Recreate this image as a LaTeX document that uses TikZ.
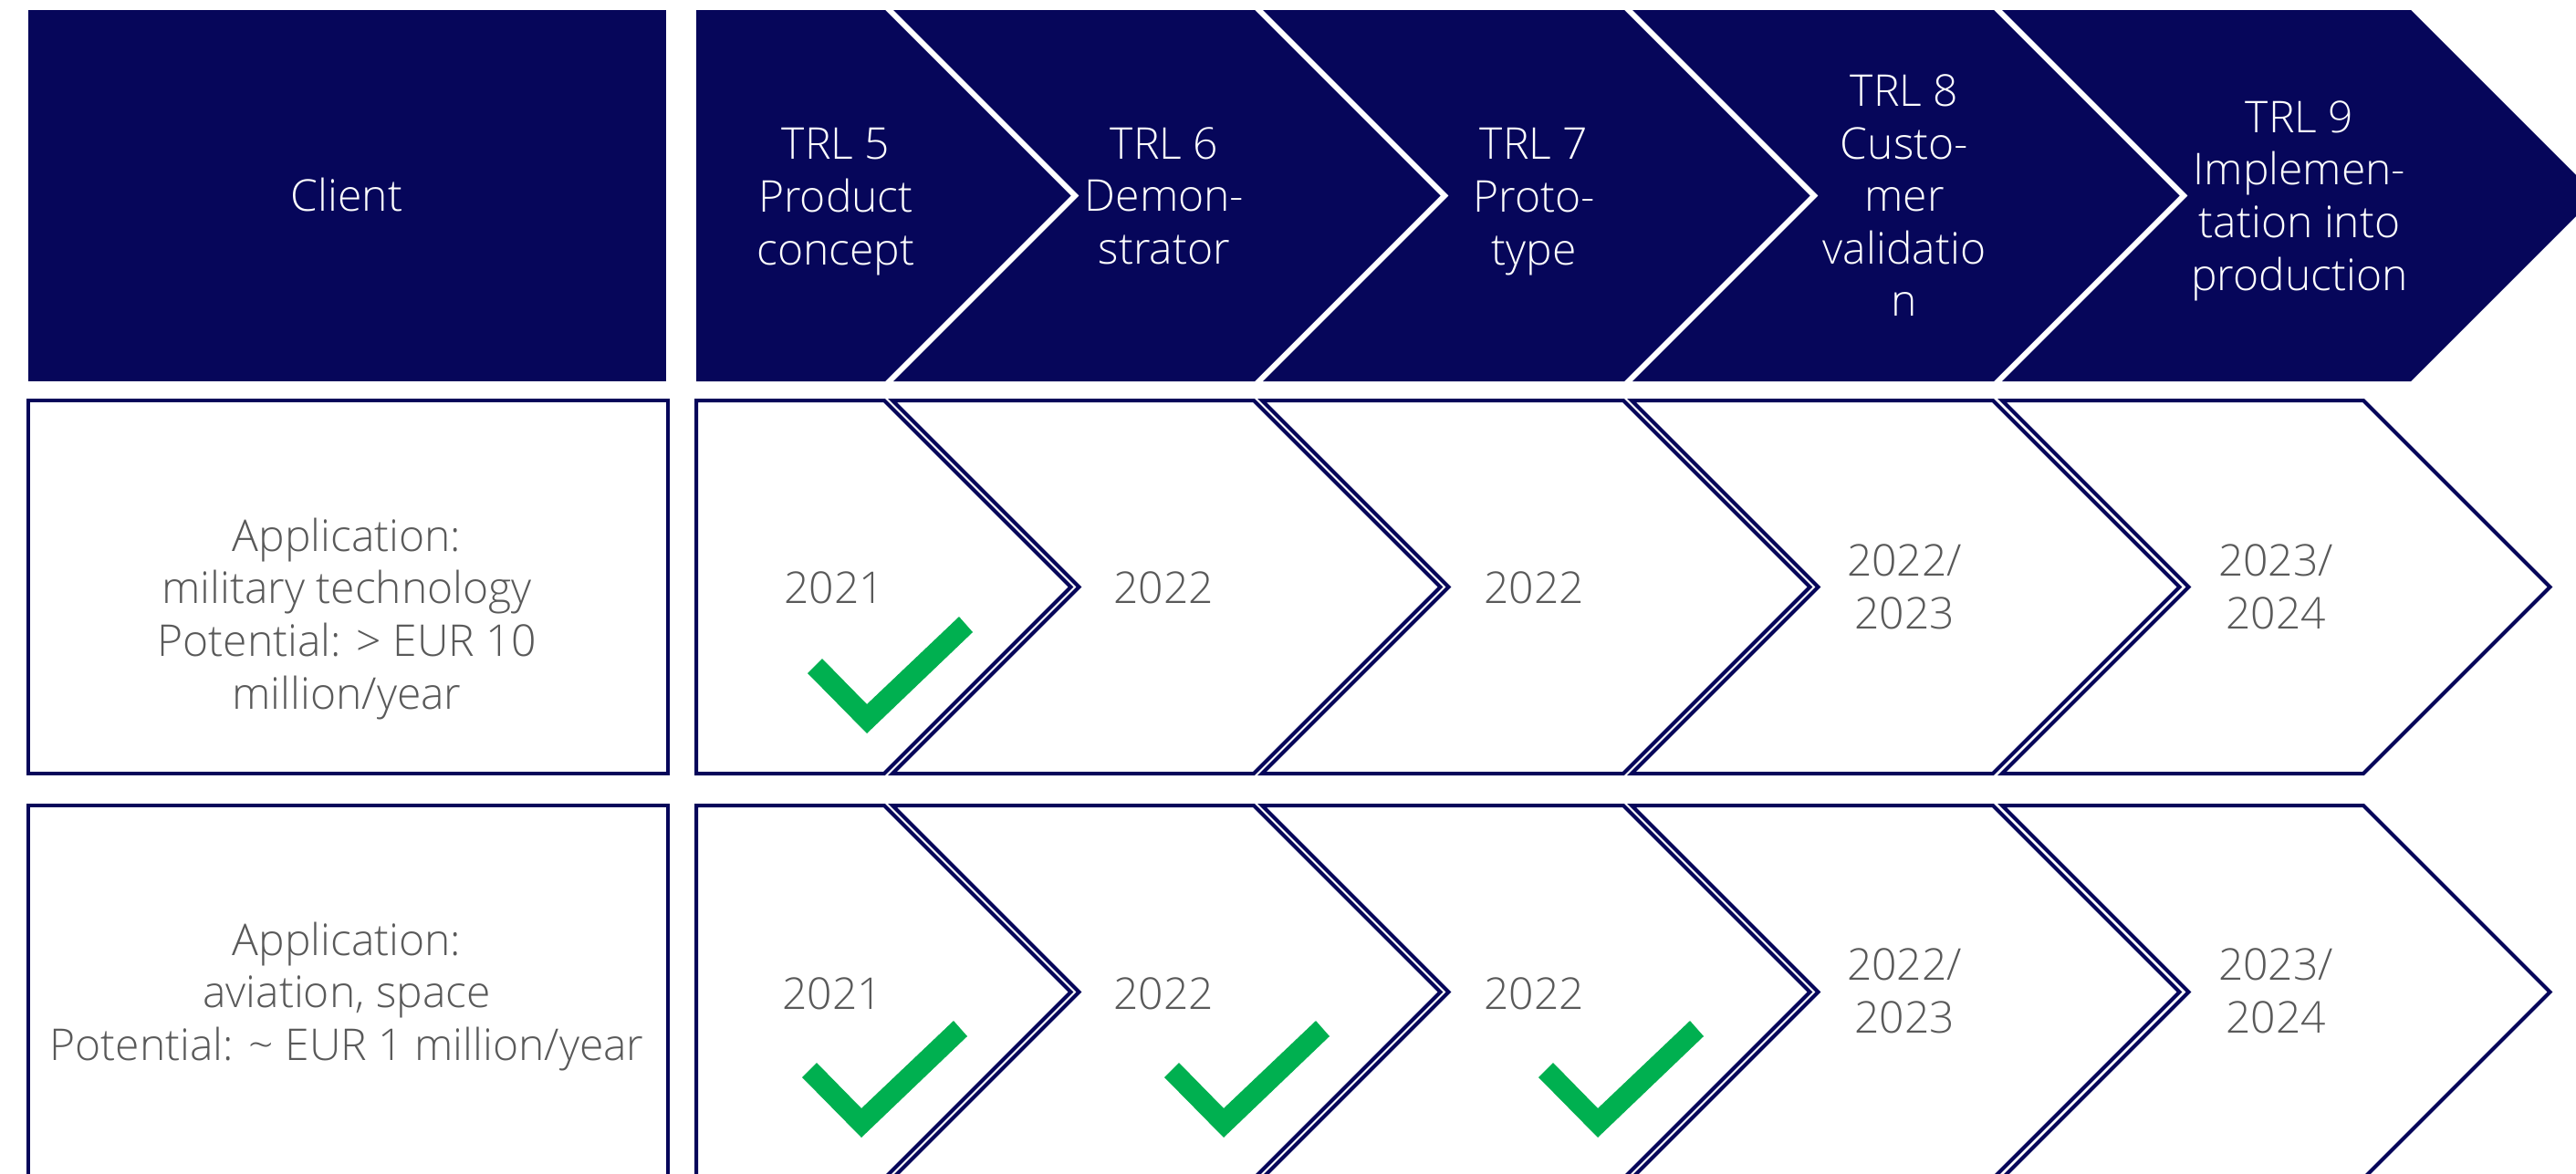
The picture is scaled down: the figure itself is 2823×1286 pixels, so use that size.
\documentclass[tikz,border=0pt]{standalone}
\usepackage{fontspec}
\setmainfont{Open Sans}[UprightFont=* Light]
\definecolor{navy}{RGB}{6,6,90}
\definecolor{txtgray}{RGB}{89,89,89}
\definecolor{tickgreen}{RGB}{0,176,80}
\newcommand\chevA[5]{%
  \path[#5] (#1,#3) -- (#2,#3) -- ({#2+(#4-#3)/2},{(#3+#4)/2}) -- (#2,#4) -- (#1,#4) -- cycle;}
\newcommand\chevB[5]{%
  \path[#5] (#1,#3) -- (#2,#3) -- ({#2+(#4-#3)/2},{(#3+#4)/2}) -- (#2,#4) -- (#1,#4) -- ({#1+(#4-#3)/2},{(#3+#4)/2}) -- cycle;}
\newcommand\tickmark[2]{%
  \fill[tickgreen] (#1,#2) -- ({#1-65},{#2-66}) -- ({#1-49},{#2-82}) -- (#1,{#2-32}) -- ({#1+101},{#2-128}) -- ({#1+116},{#2-111}) -- cycle;}
\tikzset{
  topfill/.style={fill=navy},
  outl/.style={fill=white,draw=navy,line width=4pt,line join=miter},
  basetxt/.style={align=center,inner sep=0pt,font=\fontsize{48}{57.6}\selectfont,
    execute at begin node=\strut, execute at end node=\strut},
  toptxt/.style={basetxt,text=white},
  graytxt/.style={basetxt,text=txtgray},
}
\begin{document}
\begin{tikzpicture}[x=1pt,y=-1pt]
\useasboundingbox (0,0) rectangle (2823,1286);
\clip (0,0) rectangle (2823,1286);
\fill[white] (0,0) rectangle (2823,1286);
% ---- row 1 ----
\fill[navy] (31,11) rectangle (730,418);
\chevA{763}{970}{11}{418}{topfill}
\chevB{979}{1375}{11}{418}{topfill}
\chevB{1384}{1780}{11}{418}{topfill}
\chevB{1789}{2185}{11}{418}{topfill}
\chevB{2194}{2642}{11}{418}{topfill}
\node[toptxt] (client) at (380,220) {Client};
\node[toptxt] (trl5) at (916,224) {TRL 5\\Product\\concept};
\node[toptxt] (trl6) at (1276,223) {TRL 6\\Demon-\\strator};
\node[toptxt] (trl7) at (1681,224) {TRL 7\\Proto-\\type};
\node[toptxt] (trl8) at (2087,223) {TRL 8\\Custo-\\mer\\validatio\\n};
\node[toptxt] (trl9) at (2520,223) {TRL 9\\Implemen-\\tation into\\production};
% ---- row 2 ----
\draw[outl] (31,439) rectangle (732,848);
\chevA{763}{969}{439}{848}{outl}
\chevB{978}{1374}{439}{848}{outl}
\chevB{1383}{1779}{439}{848}{outl}
\chevB{1788}{2184}{439}{848}{outl}
\chevB{2194}{2590}{439}{848}{outl}
\node[graytxt] (app1) at (380,681) {Application:\\military technology\\Potential: > EUR 10\\million/year};
\node[graytxt] (y21a) at (914,650) {2021};
\node[graytxt] (y22a) at (1275,650) {2022};
\node[graytxt] (y22b) at (1681,650) {2022};
\node[graytxt] (y23a) at (2087,652) {2022/\\2023};
\node[graytxt] (y24a) at (2494,652) {2023/\\2024};
\tickmark{950}{804}
% ---- row 3 ----
\draw[outl] (31,883) rectangle (732,1292);
\chevA{763}{969}{883}{1292}{outl}
\chevB{978}{1374}{883}{1292}{outl}
\chevB{1383}{1779}{883}{1292}{outl}
\chevB{1788}{2184}{883}{1292}{outl}
\chevB{2194}{2590}{883}{1292}{outl}
\node[graytxt] (app2) at (380,1095) {Application:\\aviation, space\\Potential: \textasciitilde{} EUR 1 million/year};
\node[graytxt] (y21b) at (912,1095) {2021};
\node[graytxt] (y22c) at (1275,1095) {2022};
\node[graytxt] (y22d) at (1681,1095) {2022};
\node[graytxt] (y23b) at (2087,1095) {2022/\\2023};
\node[graytxt] (y24b) at (2494,1095) {2023/\\2024};
\tickmark{944}{1247}
\tickmark{1341}{1247}
\tickmark{1751}{1247}
\end{tikzpicture}
\end{document}
